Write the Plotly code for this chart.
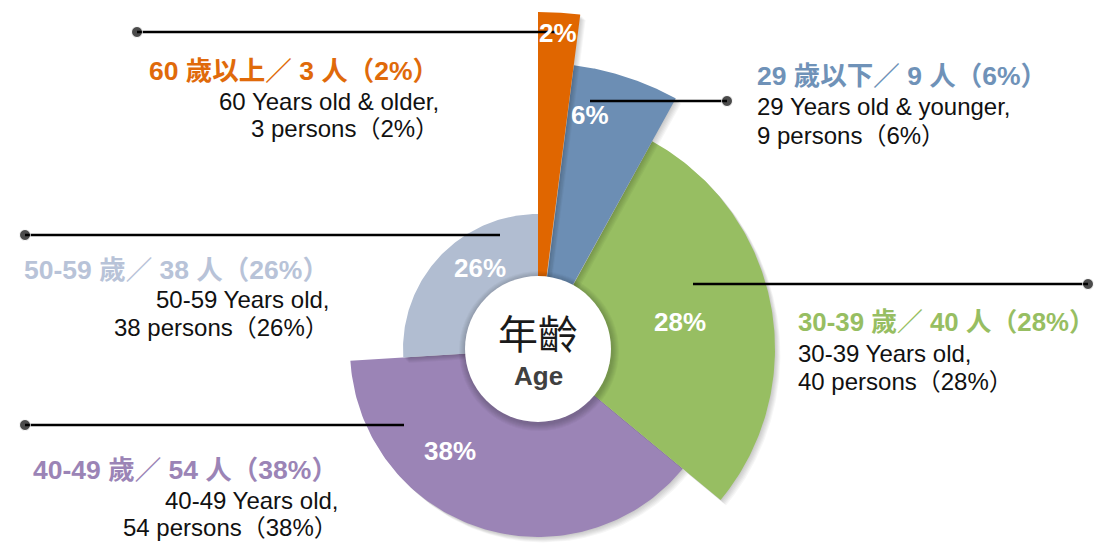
import numpy as np
import plotly.graph_objects as go

# ---------------- data ----------------
age_zh = ["60 歲以上", "29 歲以下", "30-39 歲", "40-49 歲", "50-59 歲"]
age_en = ["60 Years old &amp; older", "29 Years old &amp; younger",
          "30-39 Years old", "40-49 Years old", "50-59 Years old"]
persons = [3, 9, 40, 54, 38]
percents = [2, 6, 28, 38, 26]

# ---------------- style ----------------
colors = ["#E06600", "#6C8EB4", "#97BE62", "#9B84B6", "#B1BDD1"]
title_colors = ["#E06A0A", "#6F92B8", "#97BE62", "#9B84B6", "#B8C3D8"]
outer_r = [337, 286, 237, 188, 135]        # design radius of each wedge (px)
hole_r = 73
cx, cy = 538, 349                          # pie centre in pixel frame
draw_order = [3, 2, 4, 1, 0]
lab_frac = [0.5, 0.25, 0.5, 0.667, 0.62]   # where % label sits along the wedge
lab_rad = [317, 240, 145, 135, 100]

# label blocks: (x, anchor, y_title, y_line1, y_line2, title_size)
blocks = [
    (441, "right", 71, 101, 128, 26.5),
    (755, "left", 76, 106, 135, 26.5),
    (796, "left", 322, 353, 381, 25.8),
    (340, "right", 470, 500, 527, 26.5),
    (331, "right", 270, 299, 327, 26.5),
]
# leader lines: (x_dot, x_end, y)
leaders = [(137, 557, 32), (727, 590, 101), (1088, 693, 284),
           (25, 404, 425), (25, 500, 235)]

FONT = "Arial, 'Liberation Sans', 'Noto Sans CJK TC', sans-serif"

cum = np.concatenate([[0], np.cumsum(percents)]) / sum(percents) * 360.0
starts, ends = cum[:-1], cum[1:]


def wedge(r0, r1, a0, a1, dx=0.0, dy=0.0):
    t = np.radians(np.linspace(a0, a1, 120))
    xo = cx + r1 * np.sin(t) + dx
    yo = cy - r1 * np.cos(t) + dy
    xi = cx + r0 * np.sin(t[::-1]) + dx
    yi = cy - r0 * np.cos(t[::-1]) + dy
    return np.concatenate([xo, xi, xo[:1]]), np.concatenate([yo, yi, yo[:1]])


fig = go.Figure()
for i in draw_order:
    for k in range(1, 7):
        x, y = wedge(30, outer_r[i], starts[i], ends[i], dx=k * 0.9, dy=k * 0.9)
        fig.add_trace(go.Scatter(x=x, y=y, mode="lines", fill="toself",
                                 fillcolor="rgba(0,0,0,0.035)", line=dict(width=0),
                                 hoverinfo="skip", showlegend=False))
    x, y = wedge(30, outer_r[i], starts[i], ends[i])
    fig.add_trace(go.Scatter(x=x, y=y, mode="lines", fill="toself",
                             fillcolor=colors[i], line=dict(width=0, color=colors[i]),
                             name=age_zh[i], showlegend=False,
                             hovertemplate=f"{age_zh[i]}: {persons[i]} 人 ({percents[i]}%)<extra></extra>"))

# leader lines
for xd, xe, yl in leaders:
    fig.add_trace(go.Scatter(x=[xd, xe], y=[yl, yl], mode="lines+markers",
                             line=dict(color="#000000", width=2.4),
                             marker=dict(size=[11, 0], color="#000000"),
                             cliponaxis=False,
                             hoverinfo="skip", showlegend=False))

shapes = []
# hole shadow
for k in range(1, 8):
    r = hole_r + k
    shapes.append(dict(type="circle", xref="x", yref="y",
                       x0=cx - r + 1, x1=cx + r + 1, y0=cy - r + 2, y1=cy + r + 2,
                       fillcolor="rgba(0,0,0,0.03)", line=dict(width=0)))
shapes.append(dict(type="circle", xref="x", yref="y",
                   x0=cx - hole_r, x1=cx + hole_r, y0=cy - hole_r, y1=cy + hole_r,
                   fillcolor="#FFFFFF", line=dict(width=0)))

ann = []
# percentage labels in wedges
for i in range(len(percents)):
    a = np.radians(starts[i] + lab_frac[i] * (ends[i] - starts[i]))
    ann.append(dict(x=cx + lab_rad[i] * np.sin(a), y=cy - lab_rad[i] * np.cos(a),
                    text=f"<b>{percents[i]}%</b>", showarrow=False,
                    font=dict(family=FONT, size=26, color="#FFFFFF")))
# centre text
ann.append(dict(x=cx, y=cy - 17, text="年齡", showarrow=False,
                font=dict(family="'Noto Sans CJK TC', sans-serif", size=40, color="#1A1A1A")))
ann.append(dict(x=cx, y=cy + 27, text="<b>Age</b>", showarrow=False,
                font=dict(family=FONT, size=26, color="#404040")))
# legend text blocks
for i, (bx, anc, yt, y1, y2, ts) in enumerate(blocks):
    ann.append(dict(x=bx, y=yt, xanchor=anc, showarrow=False,
                    text=f"<b>{age_zh[i]}／ {persons[i]} 人（{percents[i]}%）</b>",
                    font=dict(family=FONT, size=ts, color=title_colors[i])))
    ann.append(dict(x=bx, y=y1, xanchor=anc, showarrow=False,
                    text=f"{age_en[i]},",
                    font=dict(family=FONT, size=24, color="#111111")))
    ann.append(dict(x=bx, y=y2, xanchor=anc, showarrow=False,
                    text=f"{persons[i]} persons（{percents[i]}%）",
                    font=dict(family=FONT, size=24, color="#111111")))

fig.update_layout(
    width=1094, height=544,
    margin=dict(l=0, r=0, t=0, b=0),
    paper_bgcolor="#FFFFFF", plot_bgcolor="#FFFFFF",
    xaxis=dict(range=[0, 1094], visible=False, fixedrange=True),
    yaxis=dict(range=[544, 0], visible=False, fixedrange=True),
    shapes=shapes, annotations=ann, showlegend=False,
)

fig.write_html("out.html",
               config={"displayModeBar": False},
               post_script="document.body.style.margin='0';"
                           "document.body.style.overflow='hidden';")
